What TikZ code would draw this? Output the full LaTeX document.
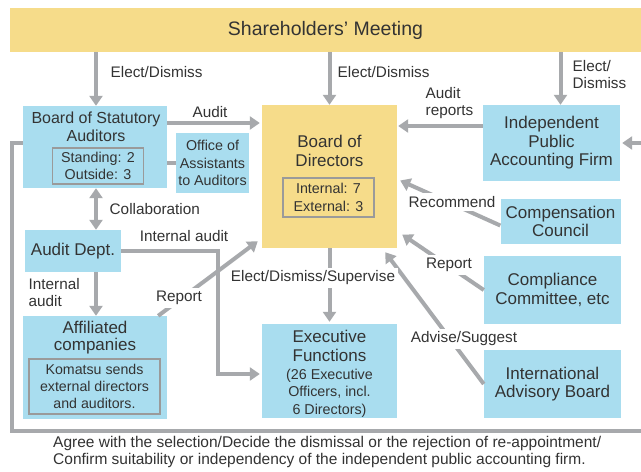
\documentclass[tikz,border=0pt]{standalone}
\usepackage{fontspec}
\setmainfont{Liberation Sans}
\usetikzlibrary{arrows.meta}
\definecolor{lblue}{HTML}{A9DDEF}
\definecolor{lyel}{HTML}{F6DC8A}
\definecolor{lgray}{HTML}{A7A9AC}
\definecolor{igray}{HTML}{9A9A9A}
\definecolor{txt}{HTML}{333333}
\begin{document}
\begin{tikzpicture}[x=1pt,y=-1pt,
  every node/.style={text=txt, inner sep=0pt, align=center},
  bluebox/.style={fill=lblue, draw=none},
  inbox/.style={draw=igray, line width=1.3pt},
  fbig/.style={font=\fontsize{17}{18.5}\selectfont},
  fmid/.style={font=\fontsize{16}{18}\selectfont},
  fsmall/.style={font=\fontsize{14.3}{17.5}\selectfont},
  fnote/.style={font=\fontsize{14.2}{17}\selectfont},
  lab/.style={font=\fontsize{15.3}{17}\selectfont, inner sep=1.5pt},
  wlab/.style={lab, fill=white, inner sep=3pt},
  conn/.style={draw=lgray, line width=4pt},
  arr/.style={conn, -{Triangle[length=10pt,width=13pt]}},
  darr/.style={conn, {Triangle[length=10pt,width=13pt]}-{Triangle[length=10pt,width=13pt]}}
]
\useasboundingbox (0,0) rectangle (641,472);
\fill[white] (0,0) rectangle (641,472);
\clip (0,0) rectangle (641,472);

% ---- boxes ----
\node[fill=lyel, minimum width=631pt, minimum height=44pt, font=\fontsize{19.5}{22}\selectfont] (sh) at (325.5,30) {Shareholders’ Meeting};

\node[bluebox, minimum width=144pt, minimum height=82pt] (bsa) at (95,147) {};
\node[fmid] (bsat) at (96,127) {Board of Statutory\\Auditors};
\node[inbox, minimum width=91pt, minimum height=36pt, fsmall] (bsain) at (98,166) {Standing: 2\\Outside: 3};

\node[bluebox, minimum width=73pt, minimum height=60pt, fsmall] (office) at (212.5,163) {Office of\\Assistants\\to Auditors};

\node[fill=lyel, minimum width=135pt, minimum height=143pt] (bod) at (329.5,176.5) {};
\node[fbig] (bodt) at (329.5,151) {Board of\\Directors};
\node[inbox, minimum width=91pt, minimum height=39pt, fsmall] (bodin) at (328.5,197.5) {Internal: 7\\External: 3};

\node[bluebox, minimum width=137pt, minimum height=76pt, fbig] (ipaf) at (551.5,143) {Independent\\Public\\Accounting Firm};
\node[bluebox, minimum width=120pt, minimum height=45pt, fbig] (cc) at (560.5,221.5) {Compensation\\Council};
\node[bluebox, minimum width=137pt, minimum height=68pt, fbig] (comp) at (552.5,290) {Compliance\\Committee, etc};
\node[bluebox, minimum width=137pt, minimum height=68pt, fbig] (iab) at (552.5,384) {International\\Advisory Board};

\node[bluebox, minimum width=135pt, minimum height=94pt] (ef) at (329.5,371) {};
\node[fbig] (eft) at (329.5,346) {Executive\\Functions};
\node[fsmall] (efs) at (329.5,393) {(26 Executive\\Officers, incl.\\6 Directors)};

\node[bluebox, minimum width=96pt, minimum height=42pt, fbig] (ad) at (73,251) {Audit Dept.};

\node[bluebox, minimum width=144pt, minimum height=103pt] (aff) at (95,367.5) {};
\node[font=\fontsize{17}{17.5}\selectfont] (afft) at (95,337.5) {Affiliated\\companies};
\node[inbox, minimum width=131pt, minimum height=55pt, fnote] (affin) at (94.5,386.5) {Komatsu sends\\external directors\\and auditors.};

% ---- helper coordinates ----
\coordinate (auy) at (0,123);
\coordinate (ary) at (0,126);
\coordinate (iax) at (218,0);
\coordinate (efy) at (0,374);
\coordinate (lbl) at (12,431);
\coordinate (lbr) at (660,431);

% ---- connectors ----
\draw[arr] (sh.south -| bsat) -- (bsa.north -| bsat);
\draw[arr] (sh.south -| bod.north) -- (bod.north);
\draw[arr] ([xshift=9pt]sh.south -| ipaf.north) -- ([xshift=9pt]ipaf.north);

\draw[arr, shorten >=2pt] (bsa.east |- auy) -- (bod.west |- auy);
\draw[conn] (bsa.east |- office.west) -- (office.west);
\draw[arr, shorten >=1pt] (ipaf.west |- ary) -- (bod.east |- ary);

\draw[darr] (bsa.south -| bsat) -- (ad.north -| bsat);
\draw[arr] (ad.south -| bsat) -- (aff.north -| bsat);

\draw[arr, shorten >=2pt] (ad.east) -- (ad.east -| iax) -- (iax |- efy) -- (ef.west |- efy);

\draw[arr] ([shift={(-9,0)}]aff.north east) -- ([shift={(-4,-7)}]bod.south west);
\draw[arr, shorten >=2pt] (bod.south) -- (ef.north);

\draw[arr] ([shift={(0,4)}]cc.west) -- ([shift={(3,4)}]bod.east);
\draw[arr] (comp.west) -- ([shift={(5,58)}]bod.east);
\draw[arr] (iab.west) -- ([shift={(-12,4)}]bod.south east);

\draw[arr, shorten >=2pt] ([shift={(0,-4)}]bsa.west) -| (lbl) -- (lbr) |- (ipaf.east);

% ---- labels ----
\node[lab, anchor=west] (l1) at (109,72) {Elect/Dismiss};
\node[lab, anchor=west] (l2) at (336,72) {Elect/Dismiss};
\node[lab, anchor=west, align=left] (l3) at (571,75) {Elect/\\Dismiss};
\node[lab] (l4) at (210,112) {Audit};
\node[lab, anchor=west, align=left] (l5) at (424,103) {Audit\\reports};
\node[lab, anchor=west] (l6) at (108,209) {Collaboration};
\node[lab] (l7) at (184,236) {Internal audit};
\node[lab, anchor=west, align=left] (l8) at (27,293) {Internal\\audit};
\node[wlab] (l9) at (179,298) {Report};
\node[wlab] (l10) at (313,278) {Elect/Dismiss/Supervise};
\node[wlab] (l11) at (452,202) {Recommend};
\node[wlab] (l12) at (449,265) {Report};
\node[wlab] (l13) at (464,339) {Advise/Suggest};

\node[font=\fontsize{15.5}{17}\selectfont, anchor=west, align=left] (note) at (53,451.5) {Agree with the selection/Decide the dismissal or the rejection of re-appointment/\\Confirm suitability or independency of the independent public accounting firm.};
\end{tikzpicture}
\end{document}
